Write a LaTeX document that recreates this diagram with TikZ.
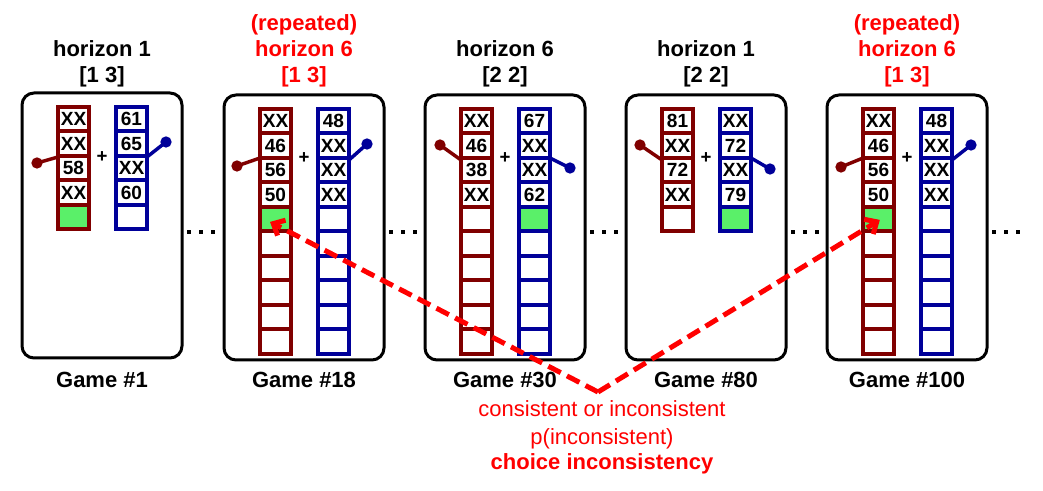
\documentclass[tikz,border=0pt]{standalone}
\usepackage{fontspec}
\setmainfont{Liberation Sans}
\usetikzlibrary{arrows.meta}
\definecolor{cmaroon}{RGB}{128,0,0}
\definecolor{cnavy}{RGB}{0,0,153}
\definecolor{cgreen}{RGB}{90,240,105}
\definecolor{cred}{RGB}{255,0,0}
\newcommand\gcol[5]{%
  \foreach \v/\f [count=\i from 0] in {#5} {
    \node[cellbox, draw=#4, fill=\f] (#1\i) at ({#2+15.5},{#3+12.25+24.5*\i}) {\v};
  }%
}
\tikzset{
  panel/.style={draw=black, line width=2.25pt, rounded corners=9pt, minimum width=120pt, minimum height=198.75pt, inner sep=0pt},
  cellbox/.style={line width=3pt, minimum width=23.25pt, minimum height=18.375pt, inner sep=0pt, font=\bfseries\fontsize{14.3}{15}\selectfont},
  lbl/.style={anchor=base, inner sep=0pt, font=\bfseries\fontsize{16.5}{19}\selectfont},
  lblr/.style={lbl, text=cred},
  plain/.style={anchor=base, inner sep=0pt, text=cred, font=\fontsize{16.5}{19}\selectfont},
  plus/.style={inner sep=0pt, font=\bfseries\fontsize{14}{15}\selectfont},
  rdot/.style={circle, fill=cmaroon, minimum size=8.5pt, inner sep=0pt},
  bdot/.style={circle, fill=cnavy, minimum size=8.5pt, inner sep=0pt},
  rline/.style={draw=cmaroon, line width=2.6pt},
  bline/.style={draw=cnavy, line width=2.6pt},
  gap/.style={fill=black, minimum size=3.6pt, inner sep=0pt},
  arrowline/.style={draw=cred, line width=3.75pt, dash pattern=on 10.5pt off 5.25pt, -{Straight Barb[length=7pt,width=13pt]}},
}
\begin{document}
\begin{tikzpicture}[x=0.75pt, y=-0.75pt]
\useasboundingbox (0,0) rectangle (1043,491);
% panels
\node[panel] (P1) at (102,225.5) {};
\node[panel] (P2) at (304,227.5) {};
\node[panel] (P3) at (505,227.5) {};
\node[panel] (P4) at (706,227.5) {};
\node[panel] (P5) at (907,227.5) {};
% columns
\gcol{aR}{58}{107}{cmaroon}{XX/white,XX/white,58/white,XX/white,{}/cgreen}
\gcol{aB}{116}{107}{cnavy}{61/white,65/white,XX/white,60/white,{}/white}
\gcol{bR}{260}{109}{cmaroon}{XX/white,46/white,56/white,50/white,{}/cgreen,{}/white,{}/white,{}/white,{}/white,{}/white}
\gcol{bB}{318}{109}{cnavy}{48/white,XX/white,XX/white,XX/white,{}/white,{}/white,{}/white,{}/white,{}/white,{}/white}
\gcol{cR}{461}{109}{cmaroon}{XX/white,46/white,38/white,XX/white,{}/white,{}/white,{}/white,{}/white,{}/white,{}/white}
\gcol{cB}{519}{109}{cnavy}{67/white,XX/white,XX/white,62/white,{}/cgreen,{}/white,{}/white,{}/white,{}/white,{}/white}
\gcol{dR}{662}{109}{cmaroon}{81/white,XX/white,72/white,XX/white,{}/white}
\gcol{dB}{720}{109}{cnavy}{XX/white,72/white,XX/white,79/white,{}/cgreen}
\gcol{eR}{863}{109}{cmaroon}{XX/white,46/white,56/white,50/white,{}/cgreen,{}/white,{}/white,{}/white,{}/white,{}/white}
\gcol{eB}{921}{109}{cnavy}{48/white,XX/white,XX/white,XX/white,{}/white,{}/white,{}/white,{}/white,{}/white,{}/white}
% levers
\node[rdot] (aRd) at (37,163) {}; \coordinate (aRa) at (58,157); \draw[rline] (aRd.center) -- (aRa);
\node[bdot] (aBd) at (166,142) {}; \coordinate (aBa) at (147,157); \draw[bline] (aBd.center) -- (aBa);
\node[rdot] (bRd) at (237,166) {}; \coordinate (bRa) at (260,158); \draw[rline] (bRd.center) -- (bRa);
\node[bdot] (bBd) at (367,144) {}; \coordinate (bBa) at (349,160); \draw[bline] (bBd.center) -- (bBa);
\node[rdot] (cRd) at (440,145) {}; \coordinate (cRa) at (461,160); \draw[rline] (cRd.center) -- (cRa);
\node[bdot] (cBd) at (570,168) {}; \coordinate (cBa) at (550,158); \draw[bline] (cBd.center) -- (cBa);
\node[rdot] (dRd) at (640,145) {}; \coordinate (dRa) at (662,160); \draw[rline] (dRd.center) -- (dRa);
\node[bdot] (dBd) at (770,169) {}; \coordinate (dBa) at (751,158); \draw[bline] (dBd.center) -- (dBa);
\node[rdot] (eRd) at (841,167) {}; \coordinate (eRa) at (863,158); \draw[rline] (eRd.center) -- (eRa);
\node[bdot] (eBd) at (971,145) {}; \coordinate (eBa) at (952,160); \draw[bline] (eBd.center) -- (eBa);
% plus signs
\node[plus] (aP) at (102,157) {+};
\node[plus] (bP) at (304,158) {+};
\node[plus] (cP) at (505,158) {+};
\node[plus] (dP) at (706,158) {+};
\node[plus] (eP) at (907,158) {+};
% ellipsis dots
\foreach \x [count=\k] in {189,201,213} {\node[gap] (ga\k) at (\x,232) {};}
\foreach \x [count=\k] in {391,403,415} {\node[gap] (gb\k) at (\x,232) {};}
\foreach \x [count=\k] in {592,604,616} {\node[gap] (gc\k) at (\x,232) {};}
\foreach \x [count=\k] in {793,805,817} {\node[gap] (gd\k) at (\x,232) {};}
\foreach \x [count=\k] in {994,1006,1018} {\node[gap] (ge\k) at (\x,232) {};}
% top labels
\node[lbl] (t1a) at (102,57) {horizon 1};
\node[lbl] (t1b) at (102,83) {[1 3]};
\node[lblr] (t2r) at (304,31) {(repeated)};
\node[lblr] (t2a) at (304,57) {horizon 6};
\node[lblr] (t2b) at (304,83) {[1 3]};
\node[lbl] (t3a) at (505,57) {horizon 6};
\node[lbl] (t3b) at (505,83) {[2 2]};
\node[lbl] (t4a) at (706,57) {horizon 1};
\node[lbl] (t4b) at (706,83) {[2 2]};
\node[lblr] (t5r) at (907,31) {(repeated)};
\node[lblr] (t5a) at (907,57) {horizon 6};
\node[lblr] (t5b) at (907,83) {[1 3]};
% game labels
\node[lbl] (g1) at (102,388) {Game \#1};
\node[lbl] (g2) at (304,388) {Game \#18};
\node[lbl] (g3) at (505,388) {Game \#30};
\node[lbl] (g4) at (706,388) {Game \#80};
\node[lbl] (g5) at (907,388) {Game \#100};
% bottom text
\node[plain] (c1) at (602,417) {consistent or inconsistent};
\node[plain] (c2) at (602,445) {p(inconsistent)};
\node[lblr] (c3) at (602,470) {choice inconsistency};
% arrows
\coordinate (apex) at (598,392);
\draw[arrowline] (apex) -- ([xshift=-4.1pt,yshift=-2pt]bR4.center);
\draw[arrowline] (apex) -- ([xshift=1pt,yshift=-0.5pt]eR4.center);
\end{tikzpicture}
\end{document}
